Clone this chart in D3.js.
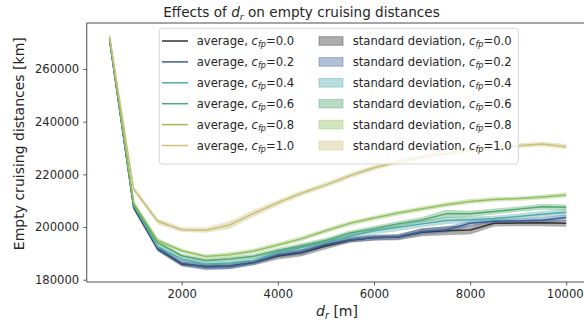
<!DOCTYPE html>
<html>
<head>
<meta charset="utf-8">
<script src="https://cdn.jsdelivr.net/npm/d3@7"></script>
<style>
  html, body { margin: 0; padding: 0; background: #fff; }
  svg text { font-family: "DejaVu Sans", sans-serif; fill: #262626; }
</style>
</head>
<body>
<svg id="chart" width="584" height="324"></svg>
<script>
// Distance d_r [m] at which each run was evaluated
const dr = [500, 1000, 1500, 2000, 2500, 3000, 3500, 4000, 4500, 5000,
            5500, 6000, 6500, 7000, 7500, 8000, 8500, 9000, 9500, 10000];

// Mean empty cruising distance [km] for each c_fp
const avg00 = [271000, 207500, 191700, 186000, 185000, 185200, 186500, 189000, 190300, 192800,
               195000, 196000, 196200, 198000, 198600, 198900, 201400, 201500, 201600, 201400];
const avg02 = [271300, 207800, 191900, 186200, 184800, 185000, 186600, 189400, 190600, 193400,
               195200, 195900, 196200, 198300, 199000, 201400, 202200, 202300, 202600, 203600];
const avg04 = [271500, 208200, 192500, 187800, 186000, 186300, 187300, 190400, 192300, 194200,
               196600, 198600, 199900, 201200, 202500, 202800, 203200, 204000, 204900, 205600];
const avg06 = [271800, 208600, 194000, 189100, 187300, 187900, 188900, 191100, 192900, 194900,
               197700, 199300, 201200, 202700, 205000, 205000, 205900, 206800, 207700, 207500];
const avg08 = [272000, 209200, 194900, 191000, 188800, 189500, 190900, 193200, 195600, 198600,
               201400, 203400, 205300, 206900, 208500, 209700, 210500, 210800, 211400, 212200];
const avg10 = [272400, 214500, 202200, 199000, 198800, 200800, 205200, 209200, 212900, 216000,
               219500, 222500, 224800, 226600, 228000, 229300, 230300, 230900, 231500, 230500];

// Standard deviation of the same runs
const std00 = [1200, 1000, 900, 900, 1000, 1100, 1000, 1300, 1400, 1200,
               1000, 1100, 1200, 1500, 1700, 1700, 1200, 1200, 1300, 1300];
const std02 = [1100, 900, 1000, 1100, 1200, 1000, 900, 1000, 1100, 1000,
               1100, 1000, 900, 1200, 1200, 1000, 900, 1000, 1100, 1200];
const std04 = [1000, 900, 800, 800, 900, 900, 900, 900, 1000, 1000,
               1200, 1300, 1500, 1300, 1400, 1200, 1100, 1100, 1200, 1300];
const std06 = [1000, 900, 800, 800, 800, 800, 900, 900, 1000, 1000,
               1000, 1100, 1000, 1100, 1600, 1200, 1100, 1000, 1100, 1100];
const std08 = [1000, 900, 900, 800, 800, 900, 900, 900, 900, 900,
               900, 900, 900, 900, 900, 900, 800, 800, 900, 900];
const std10 = [1200, 1100, 1100, 900, 1000, 1500, 1300, 1100, 1000, 1000,
               1000, 1000, 900, 900, 900, 1000, 1000, 900, 900, 1000];

const cfpLabels = ["0.0", "0.2", "0.4", "0.6", "0.8", "1.0"];
const colors = ["#333333", "#3b5f9c", "#52abab", "#52a86e", "#92c162", "#c8c17b"];
const xTicks = [2000, 4000, 6000, 8000, 10000];
const yTicks = [180000, 200000, 220000, 240000, 260000];

const series = [
  {avg: avg00, std: std00}, {avg: avg02, std: std02}, {avg: avg04, std: std04},
  {avg: avg06, std: std06}, {avg: avg08, std: std08}, {avg: avg10, std: std10}
].map((s, i) => ({...s, label: cfpLabels[i], color: colors[i]}));

const svg = d3.select("#chart");
const plot = {left: 86.75, right: 589.1, top: 23, bottom: 282};

const x = d3.scaleLinear().domain([25, 10475]).range([plot.left, plot.right]);
const y = d3.scaleLinear().domain([179130, 277470]).range([plot.bottom, plot.top]);

svg.append("defs").append("clipPath").attr("id", "plotclip")
  .append("rect").attr("x", plot.left).attr("y", plot.top)
  .attr("width", plot.right - plot.left).attr("height", plot.bottom - plot.top);

const g = svg.append("g").attr("clip-path", "url(#plotclip)");

// Shaded bands (mean ± std) sit underneath all the lines
const area = d3.area()
  .x((d, i) => x(dr[i]))
  .y0(d => y(d[0] - d[1]))
  .y1(d => y(d[0] + d[1]));
series.forEach(s => {
  g.append("path")
    .datum(s.avg.map((v, i) => [v, s.std[i]]))
    .attr("d", area)
    .attr("fill", s.color)
    .attr("fill-opacity", 0.4)
    .attr("stroke", "none");
});

const line = d3.line().x((d, i) => x(dr[i])).y(d => y(d));
series.forEach(s => {
  g.append("path")
    .datum(s.avg)
    .attr("d", line)
    .attr("fill", "none")
    .attr("stroke", s.color)
    .attr("stroke-width", 1.5)
    .attr("stroke-linejoin", "round");
});

// Axes
const axisColor = "#4d4d4d";
const xAxis = svg.append("g").attr("transform", `translate(0,${plot.bottom})`)
  .call(d3.axisBottom(x).tickValues(xTicks).tickSizeOuter(0).tickSize(3.5).tickPadding(4).tickFormat(d3.format("d")));
const yAxis = svg.append("g").attr("transform", `translate(${plot.left},0)`)
  .call(d3.axisLeft(y).tickValues(yTicks).tickSizeOuter(0).tickSize(3.5).tickPadding(4).tickFormat(d3.format("d")));
[xAxis, yAxis].forEach(a => {
  a.select(".domain").remove();
  a.selectAll(".tick line").attr("stroke", axisColor).attr("stroke-width", 0.9);
  a.selectAll(".tick text").attr("font-size", 11.6).attr("fill", "#262626")
    .attr("font-family", "DejaVu Sans");
});
// keep the last x label inside the window edge
xAxis.selectAll(".tick text").filter(d => d === 10000).attr("dx", -1.5);

// Spines: left, bottom and top
svg.append("line").attr("x1", plot.left).attr("x2", plot.left).attr("y1", plot.top).attr("y2", plot.bottom)
  .attr("stroke", axisColor).attr("stroke-width", 1);
svg.append("line").attr("x1", plot.left).attr("x2", plot.right).attr("y1", plot.bottom).attr("y2", plot.bottom)
  .attr("stroke", axisColor).attr("stroke-width", 1);
svg.append("line").attr("x1", plot.left).attr("x2", plot.right).attr("y1", plot.top).attr("y2", plot.top)
  .attr("stroke", axisColor).attr("stroke-width", 1);

// Title with math-style d_r
const title = svg.append("text").attr("x", 301.5).attr("y", 17).attr("text-anchor", "middle").attr("font-size", 13.6);
title.append("tspan").text("Effects of ");
title.append("tspan").attr("font-style", "italic").text("d");
title.append("tspan").attr("font-style", "italic").attr("font-size", "70%").attr("dy", 2.5).text("r");
title.append("tspan").attr("dy", -2.5).text(" on empty cruising distances");

// Axis labels
const xl = svg.append("text").attr("x", 337).attr("y", 316).attr("text-anchor", "middle").attr("font-size", 14);
xl.append("tspan").attr("font-style", "italic").text("d");
xl.append("tspan").attr("font-style", "italic").attr("font-size", "70%").attr("dy", 3).text("r");
xl.append("tspan").attr("dy", -3).text(" [m]");

svg.append("text").attr("transform", "translate(24,143.7) rotate(-90)")
  .attr("text-anchor", "middle").attr("font-size", 14)
  .text("Empty cruising distances [km]");

// Legend: two columns, lines then bands
const leg = svg.append("g");
leg.append("rect").attr("x", 159.3).attr("y", 28.3).attr("width", 359).attr("height", 135.7)
  .attr("rx", 3).attr("fill", "#fff").attr("fill-opacity", 0.8)
  .attr("stroke", "#d6d6d6").attr("stroke-width", 1);

function cfpText(sel, prefix, val) {
  sel.append("tspan").text(prefix);
  sel.append("tspan").attr("font-style", "italic").text("c");
  sel.append("tspan").attr("font-style", "italic").attr("font-size", "70%").attr("dy", 2.2).text("fp");
  sel.append("tspan").attr("dy", -2.2).text("=" + val);
}

series.forEach((s, i) => {
  const cy = 41 + i * 20.9;
  leg.append("line").attr("x1", 162).attr("x2", 188).attr("y1", cy).attr("y2", cy)
    .attr("stroke", s.color).attr("stroke-width", 1.5);
  cfpText(leg.append("text").attr("x", 196.7).attr("y", cy + 4.2).attr("font-size", 11.6), "average, ", s.label);

  leg.append("rect").attr("x", 319).attr("y", cy - 4.3).attr("width", 24).attr("height", 8.6)
    .attr("fill", s.color).attr("fill-opacity", 0.4)
    .attr("stroke", s.color).attr("stroke-opacity", 0.4).attr("stroke-width", 1);
  cfpText(leg.append("text").attr("x", 352.7).attr("y", cy + 4.2).attr("font-size", 11.6), "standard deviation, ", s.label);
});
</script>
</body>
</html>
